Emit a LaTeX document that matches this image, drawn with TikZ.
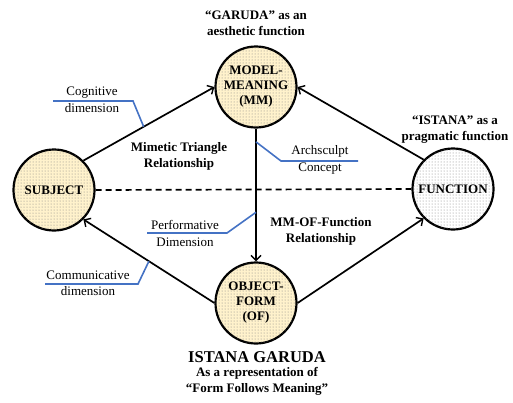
\documentclass[tikz,border=0pt]{standalone}
\usepackage{fontspec}
\setmainfont{Liberation Serif}
\usetikzlibrary{arrows.meta,patterns,calc}
\definecolor{nodeyellow}{RGB}{255,242,204}
\definecolor{calloutblue}{RGB}{68,114,196}
\tikzset{
  concept/.style={circle, draw=black, line width=2.2pt, minimum size=81pt, inner sep=0pt,
    align=center, font=\fontsize{13}{15}\selectfont\bfseries,
    postaction={pattern=dots, pattern color=black!50}},
  yellownode/.style={concept, fill=nodeyellow},
  whitenode/.style={concept, fill=white},
  link/.style={line width=1.7pt, -{Straight Barb[length=5pt,width=10pt,line width=1.4pt]}},
  dashlink/.style={line width=1.7pt, dash pattern=on 6pt off 4pt},
  callout/.style={calloutblue, line width=1.6pt},
  boldlabel/.style={align=center, font=\fontsize{13}{16}\selectfont\bfseries, inner sep=0pt},
  calltext/.style={align=center, font=\fontsize{13}{16.5}\selectfont, inner sep=0pt},
}
\begin{document}
\begin{tikzpicture}[x=1pt,y=-1pt]
\useasboundingbox (0,0) rectangle (513,402);
% nodes
\node[yellownode] (mm) at (256,87) {MODEL-\\MEANING\\(MM)};
\node[yellownode] (of) at (256,303) {OBJECT-\\FORM\\(OF)};
\node[yellownode] (subj) at (54,190) {SUBJECT};
\node[whitenode] (fun) at (453,189) {FUNCTION};
% connectors
\draw[link] (subj.north east) -- (mm.west);
\draw[link] (fun.north west) -- (mm.east);
\draw[link] (mm.south) -- (of.north);
\draw[link] (of.west) -- (subj.south east);
\draw[link] (of.east) -- (fun.south west);
\draw[dashlink] (subj.east) -- (fun.west);
% labels
\node[boldlabel] (garuda) at (256,23) {“GARUDA” as an\\aesthetic function};
\node[boldlabel] (istana) at (455,130) {“ISTANA” as a\\pragmatic function};
\node[boldlabel] (mimetic) at (179,156) {Mimetic Triangle\\Relationship};
\node[boldlabel] (mmof) at (321,231) {MM-OF-Function\\Relationship};
\node[boldlabel, font=\fontsize{16.5}{18}\selectfont\bfseries] (title) at (257,357) {ISTANA GARUDA};
\node[boldlabel] (sub) at (257,381) {As a representation of\\“Form Follows Meaning”};
% callouts
\coordinate (cogpt) at ($(subj.north east)!0.46!(mm.west)$);
\coordinate (archpt) at ($(mm.south)!0.1!(of.north)$);
\coordinate (perfpt) at ($(mm.south)!0.63!(of.north)$);
\coordinate (commpt) at ($(of.west)!0.5!(subj.south east)$);
\node[calltext] (cog) at (92,100) {Cognitive\\dimension};
\node[calltext] (arch) at (320,160) {Archsculpt\\Concept};
\node[calltext] (perf) at (185,233.5) {Performative\\Dimension};
\node[calltext] (comm) at (88,283.5) {Communicative\\dimension};
\draw[callout] (53,101) -- (133,101) -- (cogpt);
\draw[callout] (archpt) -- (281,161) -- (358,161);
\draw[callout] (147,233) -- (227,233) -- (perfpt);
\draw[callout] (45,284) -- (138,284) -- (commpt);
\end{tikzpicture}
\end{document}
